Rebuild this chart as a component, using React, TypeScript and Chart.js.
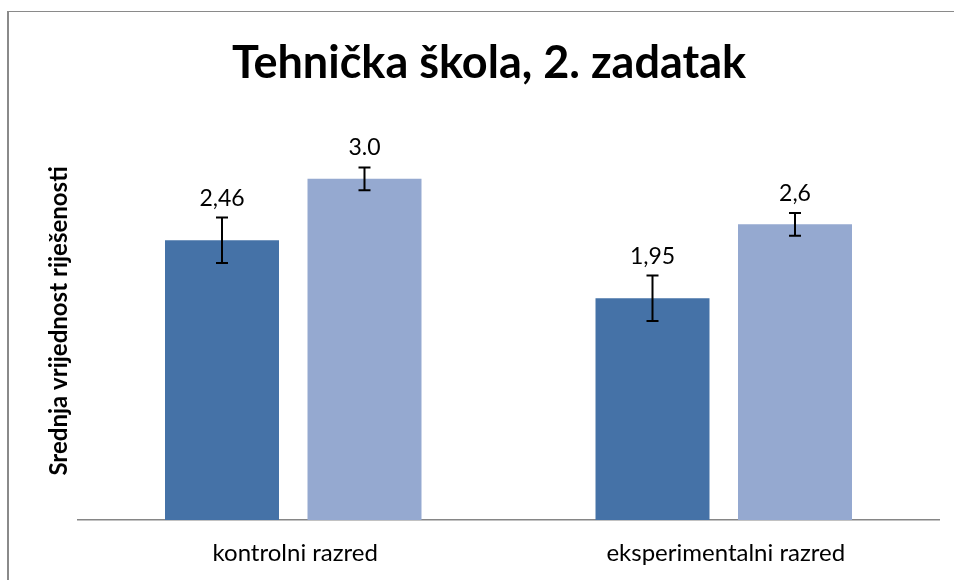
import React, { useEffect, useRef } from "react";
import { Chart, registerables } from "chart.js";

Chart.register(...registerables);

const categories = ["kontrolni razred", "eksperimentalni razred"];
const seriesA = [2.46, 1.95];
const seriesB = [3.0, 2.6];
const errorsA = [0.2, 0.2];
const errorsB = [0.1, 0.1];
const labelsA = ["2,46", "1,95"];
const labelsB = ["3.0", "2,6"];
const titleText = "Tehnička škola, 2. zadatak";
const yAxisTitle = "Srednja vrijednost riješenosti";

const FONT = "Lato, 'Open Sans', sans-serif";

const overlayPlugin = {
  id: "overlay",
  afterDatasetsDraw(chart: any) {
    const ctx = chart.ctx;
    const yScale = chart.scales.y;
    const errs = [errorsA, errorsB];
    const labs = [labelsA, labelsB];
    const vals = [seriesA, seriesB];
    ctx.save();
    chart.data.datasets.forEach((_ds: any, di: number) => {
      const meta = chart.getDatasetMeta(di);
      meta.data.forEach((el: any, i: number) => {
        const v = vals[di][i];
        const e = errs[di][i];
        const x = el.x;
        const yTop = yScale.getPixelForValue(v + e);
        const yBot = yScale.getPixelForValue(v - e);
        ctx.strokeStyle = "#000";
        ctx.lineWidth = 2;
        ctx.beginPath();
        ctx.moveTo(x, yTop);
        ctx.lineTo(x, yBot);
        ctx.moveTo(x - 6, yTop);
        ctx.lineTo(x + 6, yTop);
        ctx.moveTo(x - 6, yBot);
        ctx.lineTo(x + 6, yBot);
        ctx.stroke();
        ctx.fillStyle = "#000";
        ctx.font = `23px ${FONT}`;
        ctx.textAlign = "center";
        ctx.textBaseline = "alphabetic";
        ctx.fillText(labs[di][i], x, yTop - 12);
      });
    });
    ctx.restore();
  },
  afterDraw(chart: any) {
    const ctx = chart.ctx;
    const xScale = chart.scales.x;
    ctx.save();
    ctx.fillStyle = "#000";
    ctx.textAlign = "center";
    ctx.textBaseline = "alphabetic";
    ctx.font = `bold 45px ${FONT}`;
    ctx.fillText(titleText, 489, 78);
    ctx.font = `24px ${FONT}`;
    ctx.textBaseline = "middle";
    categories.forEach((c, i) => {
      ctx.fillText(c, xScale.getPixelForValue(i) + 2, 553);
    });
    ctx.translate(59, 321);
    ctx.rotate(-Math.PI / 2);
    ctx.font = `bold 24px ${FONT}`;
    ctx.fillText(yAxisTitle, 0, 0);
    ctx.restore();
  },
};

export default function App() {
  const ref = useRef<HTMLCanvasElement | null>(null);
  useEffect(() => {
    document.body.style.margin = "0";
    if (!ref.current) return;
    const chart = new Chart(ref.current, {
      type: "bar",
      data: {
        labels: categories,
        datasets: [
          {
            label: "A",
            data: seriesA,
            backgroundColor: "#4572A7",
            categoryPercentage: 0.662,
            barPercentage: 0.8,
          },
          {
            label: "B",
            data: seriesB,
            backgroundColor: "#95A9D0",
            categoryPercentage: 0.662,
            barPercentage: 0.8,
          },
        ],
      },
      options: {
        responsive: false,
        animation: false,
        layout: { padding: { top: 122, right: 15, left: 0, bottom: 0 } },
        plugins: {
          legend: { display: false },
          title: { display: false },
          tooltip: { enabled: false },
        },
        scales: {
          x: {
            grid: { display: false, drawTicks: false },
            ticks: { display: false },
            border: { display: true, color: "#868686", width: 1.5 },
            afterFit: (s: any) => {
              s.height = 60;
            },
          },
          y: {
            min: 0,
            max: 3.5,
            grid: { display: false, drawTicks: false },
            ticks: { display: false },
            border: { display: false },
            afterFit: (s: any) => {
              s.width = 78;
            },
          },
        },
      },
      plugins: [overlayPlugin],
    });
    return () => chart.destroy();
  }, []);
  return (
    <div style={{ position: "relative", width: 954, height: 580, overflow: "hidden", background: "#fff" }}>
      <div
        style={{
          position: "absolute",
          left: 7,
          top: 11,
          width: 980,
          height: 620,
          borderLeft: "2px solid #8a8a8a",
          borderTop: "1px solid #8a8a8a",
          boxSizing: "border-box",
        }}
      />
      <canvas ref={ref} width={954} height={580} style={{ position: "absolute", left: 0, top: 0, width: 954, height: 580 }} />
    </div>
  );
}
